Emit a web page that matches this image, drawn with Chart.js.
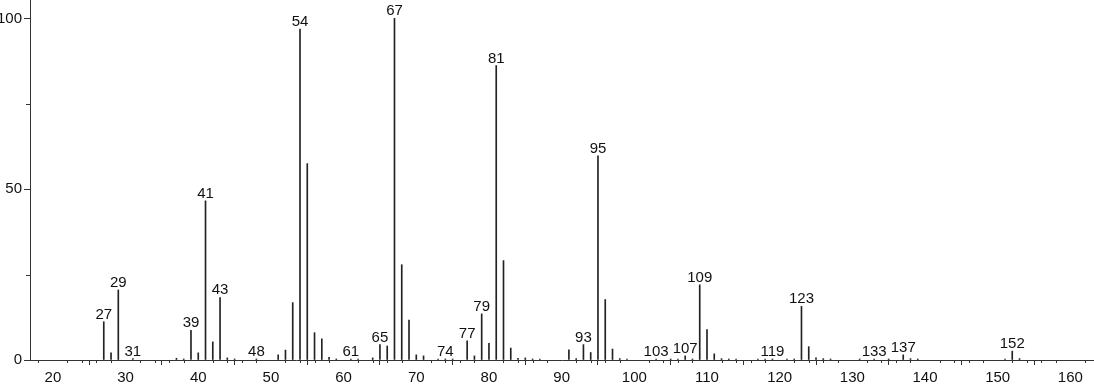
<!DOCTYPE html>
<html>
<head>
<meta charset="utf-8">
<script src="https://cdn.jsdelivr.net/npm/chart.js@4.4.1/dist/chart.umd.min.js"></script>
<style>
  html, body { margin: 0; padding: 0; background: #fff; }
  #wrap { width: 1094px; height: 384px; }
</style>
</head>
<body>
<div id="wrap"><canvas id="c" width="1094" height="384"></canvas></div>
<script>
// m/z values and relative intensities
const masses = [27, 28, 29, 31, 37, 38, 39, 40, 41, 42, 43, 44, 45, 48, 51, 52, 53, 54, 55, 56, 57, 58, 59, 61, 62, 64, 65, 66, 67, 68, 69, 70, 71, 73, 74, 75, 77, 78, 79, 80, 81, 82, 83, 84, 85, 86, 87, 91, 92, 93, 94, 95, 96, 97, 98, 99, 103, 105, 106, 107, 108, 109, 110, 111, 112, 113, 114, 117, 118, 119, 121, 122, 123, 124, 125, 126, 127, 131, 133, 135, 137, 138, 139, 151, 152, 153];
const intensities = [11.2, 2.1, 20.5, 0.4, 0.5, 0.3, 8.7, 2.1, 46.6, 5.3, 18.3, 0.6, 0.3, 0.3, 1.5, 2.9, 16.8, 96.9, 57.5, 8.0, 6.2, 0.8, 0.3, 0.3, 0.3, 0.6, 4.5, 4.1, 100, 27.9, 11.7, 1.5, 1.2, 0.3, 0.3, 0.3, 5.6, 1.2, 13.5, 4.9, 86.2, 29.1, 3.5, 0.5, 0.6, 0.3, 0.3, 3.0, 0.4, 4.5, 2.2, 59.8, 17.7, 3.2, 0.4, 0.3, 0.3, 0.3, 0.3, 1.2, 0.3, 22.0, 8.9, 1.8, 0.4, 0.3, 0.3, 0.3, 0.3, 0.3, 0.3, 0.3, 15.7, 3.9, 0.6, 0.4, 0.3, 0.3, 0.3, 0.3, 1.5, 0.4, 0.3, 0.3, 2.6, 0.4];
// peaks that carry an m/z annotation
const peakLabels = [27, 29, 31, 39, 41, 43, 48, 54, 61, 65, 67, 74, 77, 79, 81, 93, 95, 103, 107, 109, 119, 123, 133, 137, 152];
// axis ticks
const xMajorTicks = [20, 30, 40, 50, 60, 70, 80, 90, 100, 110, 120, 130, 140, 150, 160];
const xMinorTicks = [18, 22, 24, 26, 28, 32, 34, 36, 38, 42, 44, 46, 48, 52, 54, 56, 58, 62, 64, 66, 68, 72, 74, 76, 78, 82, 84, 86, 88, 92, 94, 96, 98, 102, 104, 106, 108, 112, 114, 116, 118, 122, 124, 126, 128, 132, 134, 136, 138, 142, 144, 146, 148, 152, 154, 156, 158, 162];
const yMajorTicks = [0, 50, 100];
const yMinorTicks = [25, 75];

const FONT = '"Liberation Sans", Arial, Helvetica, sans-serif';
const AXIS_COLOR = '#333';
const TEXT_COLOR = '#111';

const minorTicksPlugin = {
  id: 'minorTicks',
  afterDraw(chart) {
    const { ctx, chartArea, scales } = chart;
    ctx.save();
    ctx.strokeStyle = AXIS_COLOR;
    ctx.lineWidth = 1;
    ctx.beginPath();
    xMinorTicks.forEach(v => {
      const px = Math.round(scales.x.getPixelForValue(v)) + 0.5;
      ctx.moveTo(px, chartArea.bottom);
      ctx.lineTo(px, chartArea.bottom + 3);
    });
    yMinorTicks.forEach(v => {
      const py = Math.round(scales.y.getPixelForValue(v)) + 0.5;
      ctx.moveTo(chartArea.left - 4, py);
      ctx.lineTo(chartArea.left, py);
    });
    ctx.stroke();
    ctx.restore();
  }
};

const peakLabelPlugin = {
  id: 'peakLabels',
  afterDatasetsDraw(chart) {
    const { ctx, scales } = chart;
    ctx.save();
    ctx.fillStyle = TEXT_COLOR;
    ctx.font = '15px ' + FONT;
    ctx.textAlign = 'center';
    ctx.textBaseline = 'alphabetic';
    peakLabels.forEach(m => {
      const i = masses.indexOf(m);
      if (i < 0) return;
      const px = scales.x.getPixelForValue(m);
      const py = scales.y.getPixelForValue(intensities[i]);
      ctx.fillText(String(m), px, py - 3);
    });
    ctx.restore();
  }
};

new Chart(document.getElementById('c'), {
  type: 'bar',
  data: {
    datasets: [{
      data: masses.map((m, i) => ({ x: m, y: intensities[i] })),
      backgroundColor: '#222',
      borderWidth: 0,
      barThickness: 1,
      grouped: false
    }]
  },
  options: {
    responsive: false,
    animation: false,
    devicePixelRatio: 1,
    layout: { padding: 0 },
    plugins: { legend: { display: false }, tooltip: { enabled: false } },
    scales: {
      x: {
        type: 'linear',
        min: 16.85,
        max: 163.25,
        offset: false,
        afterBuildTicks: s => { s.ticks = xMajorTicks.map(v => ({ value: v })); },
        afterFit: s => { s.height = 24; s.paddingLeft = 0; s.paddingRight = 0; },
        ticks: {
          autoSkip: false, maxRotation: 0, padding: 4,
          color: TEXT_COLOR, font: { family: FONT, size: 15 },
          callback: v => String(v)
        },
        grid: { drawOnChartArea: false, drawTicks: true, tickLength: 5, color: AXIS_COLOR },
        border: { display: true, color: AXIS_COLOR, width: 1 }
      },
      y: {
        min: 0,
        max: 105.4,
        afterBuildTicks: s => { s.ticks = yMajorTicks.map(v => ({ value: v })); },
        afterFit: s => { s.width = 30; s.paddingTop = 0; s.paddingBottom = 0; },
        ticks: {
          padding: 2, color: TEXT_COLOR, font: { family: FONT, size: 15 },
          callback: v => String(v)
        },
        grid: { drawOnChartArea: false, drawTicks: true, tickLength: 6, color: AXIS_COLOR },
        border: { display: true, color: AXIS_COLOR, width: 1 }
      }
    }
  },
  plugins: [minorTicksPlugin, peakLabelPlugin]
});
</script>
</body>
</html>
